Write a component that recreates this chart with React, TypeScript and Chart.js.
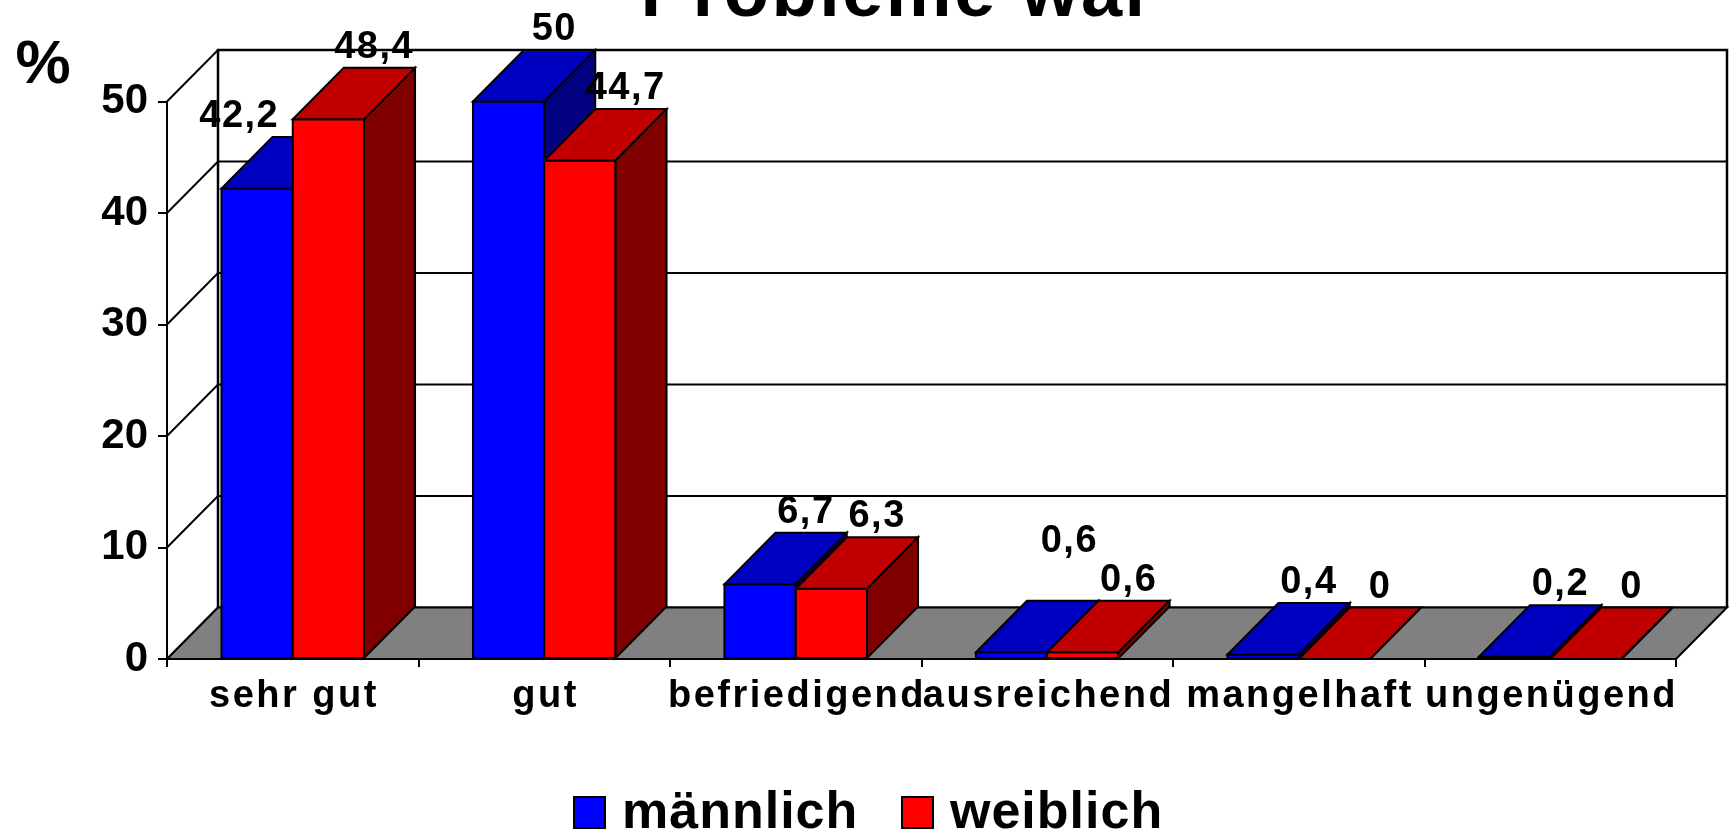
import React, { useEffect, useRef } from "react";
import { Chart, registerables } from "chart.js";

Chart.register(...registerables);

// ---------- data ----------
const categories = ["sehr gut", "gut", "befriedigend", "ausreichend", "mangelhaft", "ungenügend"];
const maleValues = [42.2, 50, 6.7, 0.6, 0.4, 0.2];
const femaleValues = [48.4, 44.7, 6.3, 0.6, 0, 0];
const seriesNames = ["männlich", "weiblich"];
const yTicks = [0, 10, 20, 30, 40, 50];
const titleText = "Probleme war";
const yAxisTitle = "%";

// ---------- layout / style ----------
const W = 1730;
const H = 833;
const DX = 51; // 3D depth offset x
const DY = 51.5; // 3D depth offset y
const FONT = '"Liberation Sans", Arial, Helvetica, sans-serif';
const palette = [
  { front: "#0000FF", top: "#0000C0", side: "#000080" },
  { front: "#FF0000", top: "#C00000", side: "#800000" },
];
const X_LABEL_SPACING = 2.5;

const fmt = (v: number) => String(v).replace(".", ",");

function poly(ctx: CanvasRenderingContext2D, pts: number[][], fill: string) {
  ctx.beginPath();
  ctx.moveTo(pts[0][0], pts[0][1]);
  for (let k = 1; k < pts.length; k++) ctx.lineTo(pts[k][0], pts[k][1]);
  ctx.closePath();
  ctx.fillStyle = fill;
  ctx.fill();
  ctx.stroke();
}

function spacedWidth(ctx: CanvasRenderingContext2D, text: string, spacing: number) {
  return ctx.measureText(text).width - spacing;
}

const threeD = {
  id: "threeD",
  beforeDraw(chart: any) {
    const sx = chart.scales.x;
    if (sx && !sx.__spaced) {
      const orig = sx.drawLabels;
      sx.drawLabels = function (area: any) {
        const c = this.ctx as CanvasRenderingContext2D;
        c.save();
        (c as any).letterSpacing = X_LABEL_SPACING + "px";
        c.translate(X_LABEL_SPACING / 2, 0);
        orig.call(this, area);
        c.restore();
      };
      sx.__spaced = true;
    }
  },
  beforeDatasetsDraw(chart: any) {
    const ctx: CanvasRenderingContext2D = chart.ctx;
    const a = chart.chartArea;
    const ys = chart.scales.y;
    const L = a.left, R = a.right, B = a.bottom, T = a.top;
    ctx.save();
    ctx.lineJoin = "miter";
    // back wall
    ctx.fillStyle = "#FFFFFF";
    ctx.fillRect(L + DX, T - DY, R - L, B - T);
    // grid lines on left wall + back wall
    ctx.strokeStyle = "#000000";
    ctx.lineWidth = 2;
    for (const v of yTicks) {
      const y = ys.getPixelForValue(v);
      ctx.beginPath();
      ctx.moveTo(L, y);
      ctx.lineTo(L + DX, y - DY);
      ctx.lineTo(R + DX, y - DY);
      ctx.stroke();
    }
    ctx.lineWidth = 2.5;
    ctx.beginPath();
    ctx.moveTo(L + DX, B - DY);
    ctx.lineTo(L + DX, T - DY);
    ctx.lineTo(R + DX, T - DY);
    ctx.lineTo(R + DX, B - DY);
    ctx.stroke();
    // floor
    ctx.lineWidth = 2;
    poly(ctx, [[L, B], [R, B], [R + DX, B - DY], [L + DX, B - DY]], "#808080");
    // boxes, painted left to right
    const n = chart.data.labels.length;
    const nd = chart.data.datasets.length;
    for (let j = 0; j < n; j++) {
      for (let i = 0; i < nd; i++) {
        const el = chart.getDatasetMeta(i).data[j];
        const { x, y, base, width } = el.getProps(["x", "y", "base", "width"], true);
        const x0 = x - width / 2;
        const x1 = x + width / 2;
        const c = palette[i];
        poly(ctx, [[x0, y], [x1, y], [x1, base], [x0, base]], c.front);
        poly(ctx, [[x0, y], [x1, y], [x1 + DX, y - DY], [x0 + DX, y - DY]], c.top);
        poly(ctx, [[x1, y], [x1 + DX, y - DY], [x1 + DX, base - DY], [x1, base]], c.side);
      }
    }
    ctx.restore();
    return false;
  },
  afterDraw(chart: any) {
    const ctx: CanvasRenderingContext2D = chart.ctx;
    ctx.save();
    ctx.fillStyle = "#000000";
    ctx.textBaseline = "alphabetic";
    ctx.textAlign = "left";

    // ----- data labels -----
    const LS = 1.5;
    const ASC = 27;
    ctx.font = `bold 38px ${FONT}`;
    (ctx as any).letterSpacing = LS + "px";
    const n = chart.data.labels.length;
    const nd = chart.data.datasets.length;
    for (let j = 0; j < n; j++) {
      const items: any[] = [];
      for (let i = 0; i < nd; i++) {
        const el = chart.getDatasetMeta(i).data[j];
        const p = el.getProps(["x", "y", "base", "width"], true);
        const text = fmt(chart.data.datasets[i].data[j]);
        const w = spacedWidth(ctx, text, LS);
        items.push({ text, w, cx: p.x + DX - 6, bl: p.y - DY - 10, p });
      }
      // avoid running into the next bar of the group
      for (let i = 0; i < nd - 1; i++) {
        const it = items[i];
        const nx = items[i + 1].p;
        const nLeft = nx.x - nx.width / 2;
        if (it.cx + it.w / 2 > nLeft && it.bl > nx.y) {
          it.cx = nLeft - 15 - it.w / 2;
        }
      }
      // stack labels that sit at the same level and nearly touch
      for (let i = nd - 2; i >= 0; i--) {
        const it = items[i];
        const nxt = items[i + 1];
        const gap = nxt.cx - nxt.w / 2 - (it.cx + it.w / 2);
        if (Math.abs(it.bl - nxt.bl) < 1.5 && gap < 30) {
          it.bl = nxt.bl - ASC - 12;
          it.cx += 12;
        }
      }
      for (const it of items) ctx.fillText(it.text, it.cx - it.w / 2, it.bl);
    }

    // ----- title (cut at the top) -----
    ctx.font = `bold 74px ${FONT}`;
    (ctx as any).letterSpacing = "2.5px";
    const tw = spacedWidth(ctx, titleText, 2.5);
    ctx.fillText(titleText, 897 - tw / 2, 15.5);

    // ----- y axis title -----
    ctx.font = `bold 62px ${FONT}`;
    (ctx as any).letterSpacing = "0px";
    const pw = ctx.measureText(yAxisTitle).width;
    ctx.fillText(yAxisTitle, 43 - pw / 2, 83);

    // ----- legend -----
    const legendItems = [
      { box: 574, text: 622 },
      { box: 902, text: 950 },
    ];
    ctx.font = `bold 52px ${FONT}`;
    (ctx as any).letterSpacing = "1px";
    ctx.lineWidth = 2;
    ctx.strokeStyle = "#000000";
    chart.data.datasets.forEach((ds: any, i: number) => {
      const li = legendItems[i];
      ctx.fillStyle = palette[i].front;
      ctx.fillRect(li.box, 797, 31, 31);
      ctx.strokeRect(li.box, 797, 31, 31);
      ctx.fillStyle = "#000000";
      ctx.fillText(ds.label, li.text, 828);
    });
    ctx.restore();
  },
};

export default function App() {
  const ref = useRef<HTMLCanvasElement | null>(null);
  useEffect(() => {
    if (!ref.current) return;
    const chart = new Chart(ref.current, {
      type: "bar",
      data: {
        labels: categories,
        datasets: [
          { label: seriesNames[0], data: maleValues, backgroundColor: palette[0].front },
          { label: seriesNames[1], data: femaleValues, backgroundColor: palette[1].front },
        ],
      },
      options: {
        responsive: false,
        animation: false,
        devicePixelRatio: 1,
        events: [],
        categoryPercentage: 0.567,
        barPercentage: 1,
        layout: { padding: { top: 101.5, right: 54, bottom: 0, left: 0 } },
        plugins: {
          legend: { display: false },
          title: { display: false },
          tooltip: { enabled: false },
        },
        scales: {
          x: {
            offset: true,
            grid: {
              offset: true,
              drawOnChartArea: false,
              drawTicks: true,
              tickLength: 8,
              color: "#000000",
              lineWidth: 2,
            },
            border: { display: true, color: "#000000", width: 2 },
            ticks: {
              autoSkip: false,
              maxRotation: 0,
              minRotation: 0,
              padding: 7,
              color: "#000000",
              font: { family: FONT, size: 38, weight: "bold" },
            },
            afterFit: (s: any) => {
              s.height = H - 659;
            },
          },
          y: {
            min: yTicks[0],
            max: yTicks[yTicks.length - 1],
            ticks: {
              stepSize: 10,
              padding: 10,
              color: "#000000",
              font: { family: FONT, size: 42, weight: "bold" },
            },
            grid: {
              drawOnChartArea: false,
              drawTicks: true,
              tickLength: 9,
              color: "#000000",
              lineWidth: 2,
            },
            border: { display: true, color: "#000000", width: 2 },
            afterFit: (s: any) => {
              s.width = 167;
            },
          },
        },
      } as any,
      plugins: [threeD as any],
    });
    return () => chart.destroy();
  }, []);
  return (
    <div style={{ position: "absolute", left: 0, top: 0, width: W, height: H, background: "#fff" }}>
      <canvas ref={ref} width={W} height={H} style={{ display: "block", width: W, height: H }} />
    </div>
  );
}
